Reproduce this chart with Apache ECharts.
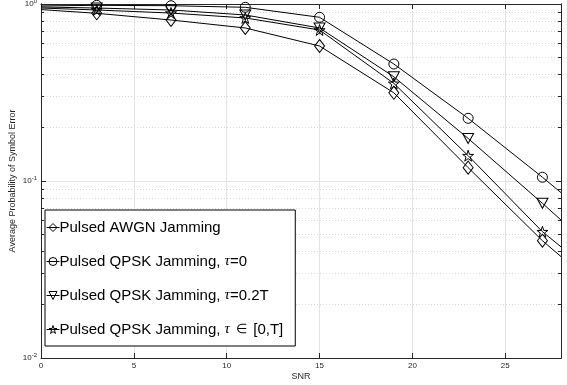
<!DOCTYPE html>
<html>
<head>
<meta charset="utf-8">
<script src="https://cdn.jsdelivr.net/npm/echarts@6/dist/echarts.min.js"></script>
<style>
  html, body { margin: 0; padding: 0; background: #fff; }
  #chart { width: 567px; height: 385px; }
</style>
</head>
<body>
<div id="chart"></div>
<script>
// SNR points (markers at 3..27, line runs from 0 to 28)
const snr = [0, 3, 7, 11, 15, 19, 23, 27, 28];

const awgn = [0.93, 0.886, 0.812, 0.732, 0.579, 0.315, 0.119, 0.046, 0.0374];
const qpsk0 = [0.975, 0.983, 0.978, 0.958, 0.841, 0.458, 0.226, 0.105, 0.086];
const qpsk02 = [0.962, 0.949, 0.925, 0.867, 0.732, 0.388, 0.174, 0.0748, 0.0602];
const qpskRand = [0.949, 0.925, 0.889, 0.834, 0.713, 0.356, 0.139, 0.0517, 0.0425];

const seriesNames = [
  'Pulsed AWGN Jamming',
  'Pulsed QPSK Jamming, τ=0',
  'Pulsed QPSK Jamming, τ=0.2T',
  'Pulsed QPSK Jamming, τ ∈ [0,T]'
];

const xTicks = [0, 5, 10, 15, 20, 25];
const yMajor = [0.01, 0.1, 1];
const yMinor = [0.02, 0.03, 0.04, 0.05, 0.06, 0.07, 0.08, 0.09,
                0.2, 0.3, 0.4, 0.5, 0.6, 0.7, 0.8, 0.9];

const starPath = 'path://M0,-100L22.45,-30.9L95.1,-30.9L36.3,11.8L58.8,80.9L0,38.2L-58.8,80.9L-36.3,11.8L-95.1,-30.9L-22.45,-30.9Z';

const toData = (ys) => snr.map((x, i) => {
    if (i === 0 || i === snr.length - 1) {
        return {value: [x, ys[i]], symbol: 'none'};
    }
    return [x, ys[i]];
});

const mkSeries = (name, ys, symbol, size, rotate) => ({
    name: name,
    type: 'line',
    data: toData(ys),
    symbol: symbol,
    symbolSize: size,
    symbolRotate: rotate || 0,
    showAllSymbol: true,
    lineStyle: {color: '#000', width: 1},
    itemStyle: {color: 'none', borderColor: '#000', borderWidth: 1},
    emphasis: {disabled: true},
    animation: false,
    z: 5
});

const font = 'Liberation Sans, Arial, sans-serif';
const axisCol = '#262626';

const myChart = echarts.init(document.getElementById('chart'));
myChart.setOption({
    animation: false,
    textStyle: {fontFamily: font},
    grid: {left: 41, right: 6, top: 4, bottom: 27, outerBoundsMode: 'none', containLabel: false},
    legend: {
        orient: 'vertical',
        left: 45,
        top: 210,
        data: seriesNames,
        itemWidth: 13,
        itemHeight: 10,
        itemGap: 19,
        padding: [10, 12, 9, 1],
        borderColor: '#000',
        borderWidth: 1,
        backgroundColor: '#fff',
        itemStyle: {color: 'none', borderColor: '#000', borderWidth: 1},
        lineStyle: {color: '#000', width: 1},
        textStyle: {
            color: '#000',
            fontSize: 15,
            fontFamily: font,
            padding: [0, 0, 0, -5],
            rich: {
                i: {fontSize: 15, fontStyle: 'italic', fontFamily: 'Liberation Serif, serif', color: '#000'},
                m: {fontSize: 13, fontFamily: 'Liberation Serif, serif', color: '#000', padding: [0, 2, 0, 2]}
            }
        },
        formatter: (name) => name.replace('τ', '{i|τ}').replace('∈', '{m|∈}'),
        selectedMode: false
    },
    xAxis: [
        {
            type: 'value', min: 0, max: 28, position: 'bottom',
            name: 'SNR', nameLocation: 'middle', nameGap: 14, nameMoveOverlap: false,
            nameTextStyle: {fontSize: 9, color: axisCol},
            axisLine: {lineStyle: {color: axisCol}},
            axisTick: {inside: true, length: 5, customValues: xTicks, lineStyle: {color: axisCol}},
            axisLabel: {customValues: xTicks, fontSize: 8, color: axisCol, margin: 4},
            splitLine: {show: true, lineStyle: {color: '#e3e3e3'}}
        },
        {
            type: 'value', min: 0, max: 28, position: 'top',
            axisLine: {lineStyle: {color: axisCol}},
            axisTick: {inside: true, length: 5, customValues: xTicks, lineStyle: {color: axisCol}},
            axisLabel: {show: false},
            splitLine: {show: false}
        }
    ],
    yAxis: [
        {
            type: 'log', logBase: 10, min: 0.01, max: 1, position: 'left',
            name: 'Average Probability of Symbol Error', nameLocation: 'middle', nameGap: 24,
            nameMoveOverlap: false,
            nameTextStyle: {fontSize: 9, color: axisCol},
            axisLine: {show: true, lineStyle: {color: axisCol}},
            axisTick: {inside: true, length: 5, customValues: yMajor, lineStyle: {color: axisCol}},
            axisLabel: {
                customValues: yMajor, color: axisCol, margin: 4,
                formatter: (v) => '{b|10}{s|' + Math.round(Math.log10(v)) + '}',
                rich: {
                    b: {fontSize: 8, color: axisCol},
                    s: {fontSize: 6, color: axisCol, padding: [0, 0, 6, 0]}
                }
            },
            splitLine: {show: true, lineStyle: {color: '#e3e3e3'}}
        },
        {
            type: 'log', logBase: 10, min: 0.01, max: 1, position: 'left',
            axisLine: {show: true, lineStyle: {color: axisCol}},
            axisTick: {inside: true, length: 3, customValues: yMinor, lineStyle: {color: axisCol}},
            axisLabel: {show: false},
            splitLine: {show: true, lineStyle: {color: '#d8d8d8', type: [1, 2]}}
        },
        {
            type: 'log', logBase: 10, min: 0.01, max: 1, position: 'right',
            axisLine: {show: true, lineStyle: {color: axisCol}},
            axisTick: {inside: true, length: 5, customValues: yMajor, lineStyle: {color: axisCol}},
            axisLabel: {show: false},
            splitLine: {show: false}
        },
        {
            type: 'log', logBase: 10, min: 0.01, max: 1, position: 'right',
            axisLine: {show: true, lineStyle: {color: axisCol}},
            axisTick: {inside: true, length: 3, customValues: yMinor, lineStyle: {color: axisCol}},
            axisLabel: {show: false},
            splitLine: {show: false}
        }
    ],
    series: [
        mkSeries(seriesNames[0], awgn, 'diamond', [10, 13]),
        mkSeries(seriesNames[1], qpsk0, 'circle', 10),
        mkSeries(seriesNames[2], qpsk02, 'triangle', [11, 10], 180),
        mkSeries(seriesNames[3], qpskRand, starPath, 11)
    ]
});
</script>
</body>
</html>
